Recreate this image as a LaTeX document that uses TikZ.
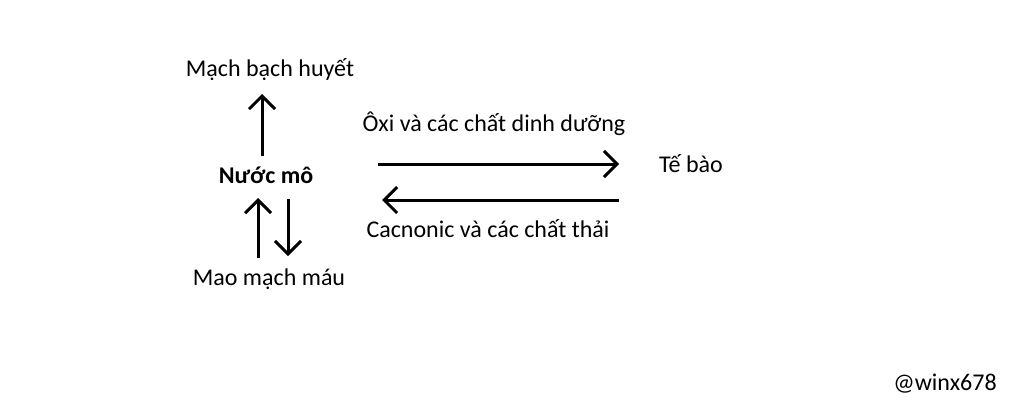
\documentclass[tikz,border=0pt]{standalone}
\usepackage{fontspec}
\setmainfont{Carlito}
\usetikzlibrary{arrows.meta}
\begin{document}
\begin{tikzpicture}[x=1pt,y=-1pt,
  lbl/.style={inner sep=0pt,font=\fontsize{24}{28}\selectfont},
  arr/.style={line width=3pt,-{Straight Barb[length=13pt,width=26pt,line width=3pt]}}]
\useasboundingbox[fill=white] (0,0) rectangle (1024,407);
\node[lbl] (mbh) at (270,70) {Mạch bạch huyết};
\node[lbl,font=\fontsize{24}{28}\selectfont\bfseries] (nm) at (266,175) {Nước mô};
\node[lbl] (mmm) at (269,279) {Mao mạch máu};
\node[lbl] (oxi) at (494,124) {Ôxi và các chất dinh dưỡng};
\node[lbl] (tb) at (691,164) {Tế bào};
\node[lbl] (cac) at (488,229) {Cacnonic và các chất thải};
\node[lbl] (w) at (945,384) {@winx678};
\coordinate (a1s) at (262,156); \coordinate (a1e) at (262,94);
\coordinate (a2s) at (258,258); \coordinate (a2e) at (258,198);
\coordinate (a3s) at (288,199); \coordinate (a3e) at (288,256);
\coordinate (r1s) at (378,164); \coordinate (r1e) at (619,164);
\coordinate (l1s) at (619,200); \coordinate (l1e) at (382,200);
\draw[arr] (a1s) -- (a1e);
\draw[arr] (a2s) -- (a2e);
\draw[arr] (a3s) -- (a3e);
\draw[arr] (r1s) -- (r1e);
\draw[arr] (l1s) -- (l1e);
\end{tikzpicture}
\end{document}
